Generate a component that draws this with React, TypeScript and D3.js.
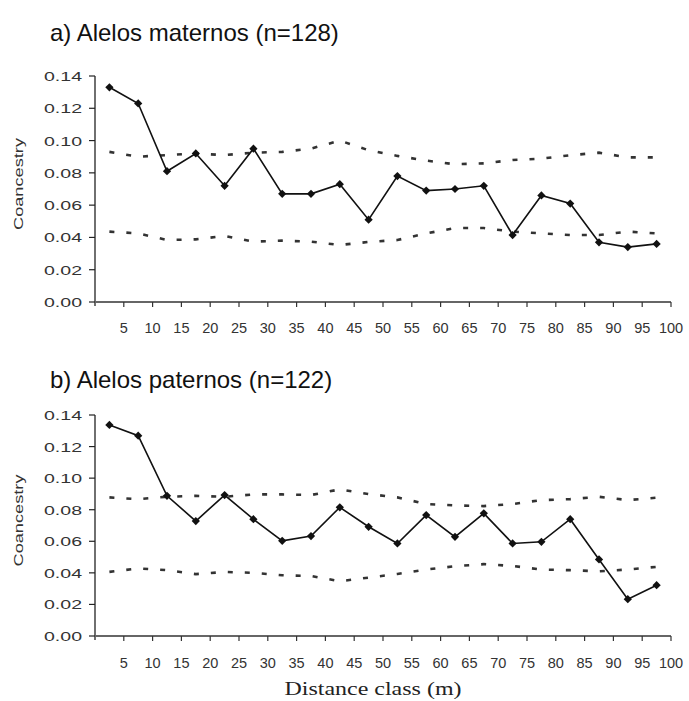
import React from "react";
import * as d3 from "d3";

const distanceClasses = [2.5, 7.5, 12.5, 17.5, 22.5, 27.5, 32.5, 37.5, 42.5, 47.5, 52.5, 57.5, 62.5, 67.5, 72.5, 77.5, 82.5, 87.5, 92.5, 97.5];
const xTickValues = [5, 10, 15, 20, 25, 30, 35, 40, 45, 50, 55, 60, 65, 70, 75, 80, 85, 90, 95, 100];
const yTickValues = [0, 0.02, 0.04, 0.06, 0.08, 0.1, 0.12, 0.14];

const maternalObserved = [0.133, 0.123, 0.081, 0.092, 0.072, 0.095, 0.067, 0.067, 0.073, 0.051, 0.078, 0.069, 0.070, 0.072, 0.0415, 0.066, 0.061, 0.037, 0.034, 0.036];
const maternalUpper = [0.093, 0.090, 0.091, 0.092, 0.091, 0.0925, 0.093, 0.095, 0.100, 0.094, 0.0905, 0.0876, 0.0853, 0.0859, 0.088, 0.0888, 0.0909, 0.0925, 0.0896, 0.0896];
const maternalLower = [0.0436, 0.0425, 0.0384, 0.0388, 0.0409, 0.0374, 0.038, 0.0374, 0.0353, 0.0372, 0.0384, 0.0425, 0.0458, 0.0458, 0.0436, 0.0425, 0.0415, 0.0415, 0.0436, 0.0425];

const paternalObserved = [0.1337, 0.1269, 0.0888, 0.0728, 0.0893, 0.074, 0.0603, 0.0633, 0.0815, 0.0692, 0.0586, 0.0766, 0.0628, 0.0777, 0.0586, 0.0597, 0.074, 0.0485, 0.0233, 0.0322];
const paternalUpper = [0.0878, 0.0867, 0.0882, 0.0888, 0.0882, 0.0897, 0.0897, 0.0893, 0.0929, 0.0899, 0.0878, 0.0836, 0.0827, 0.0823, 0.0836, 0.0861, 0.0867, 0.0882, 0.0861, 0.0876];
const paternalLower = [0.0406, 0.0428, 0.0417, 0.0392, 0.0406, 0.040, 0.0385, 0.038, 0.0347, 0.037, 0.0393, 0.0421, 0.0442, 0.0455, 0.0444, 0.0421, 0.0417, 0.041, 0.0421, 0.0438];

const LEFT = 95;
const RIGHT = 671;

type PanelProps = {
  title: string;
  titleY: number;
  top: number;
  bottom: number;
  observed: number[];
  upper: number[];
  lower: number[];
  labelBaseline: number;
};

function Panel({ title, titleY, top, bottom, observed, upper, lower, labelBaseline }: PanelProps) {
  const x = d3.scaleLinear().domain([0, 100]).range([LEFT, RIGHT]);
  const y = d3.scaleLinear().domain([0, 0.14]).range([bottom, top]);
  const line = d3
    .line<number>()
    .x((_, i) => x(distanceClasses[i]))
    .y((d) => y(d));
  const marker = d3.symbol().type(d3.symbolSquare).size(34)();
  const sans = "'Liberation Sans', Arial, sans-serif";
  return (
    <g>
      <text x={50} y={titleY} fontFamily={sans} fontSize={24} fill="#111">
        {title}
      </text>
      {/* y axis */}
      <line x1={LEFT} x2={LEFT} y1={y(0.14)} y2={y(0) + 4} stroke="#222" strokeWidth={1.3} />
      {yTickValues.map((t) => (
        <g key={t}>
          <line x1={LEFT - 6} x2={LEFT} y1={y(t)} y2={y(t)} stroke="#222" strokeWidth={1.2} />
          <text
            x={82}
            y={y(t) + 5}
            textAnchor="end"
            fontFamily={sans}
            fontSize={13.5}
            textLength={38}
            lengthAdjust="spacingAndGlyphs"
            fill="#333"
          >
            {t.toFixed(2)}
          </text>
        </g>
      ))}
      <text
        transform={`translate(23,${(top + bottom) / 2 - 5}) rotate(-90)`}
        textAnchor="middle"
        fontFamily={sans}
        fontSize={12.5}
        textLength={92}
        lengthAdjust="spacingAndGlyphs"
        fill="#333"
      >
        Coancestry
      </text>
      {/* x axis */}
      <line x1={LEFT} x2={RIGHT} y1={y(0)} y2={y(0)} stroke="#666" strokeWidth={1.8} />
      {xTickValues.map((t) => (
        <g key={t}>
          <line x1={x(t)} x2={x(t)} y1={y(0)} y2={y(0) + 5} stroke="#333" strokeWidth={1.2} />
          <text
            x={x(t)}
            y={labelBaseline}
            textAnchor="middle"
            fontFamily={sans}
            fontSize={14.5}
            fill="#333"
          >
            {t}
          </text>
        </g>
      ))}
      {/* envelopes */}
      <path d={line(upper) || ""} fill="none" stroke="#333" strokeWidth={2.6} strokeDasharray="5 12" />
      <path d={line(lower) || ""} fill="none" stroke="#333" strokeWidth={2.6} strokeDasharray="5 12" />
      {/* observed */}
      <path d={line(observed) || ""} fill="none" stroke="#111" strokeWidth={1.6} />
      {observed.map((d, i) => (
        <path
          key={i}
          d={marker || ""}
          transform={`translate(${x(distanceClasses[i])},${y(d)}) rotate(45)`}
          fill="#111"
        />
      ))}
    </g>
  );
}

export default function App() {
  return (
    <svg
      width={689}
      height={701}
      style={{ position: "absolute", left: 0, top: 0, background: "#fff" }}
    >
      <rect x={0} y={0} width={689} height={701} fill="#fff" />
      <Panel
        title="a) Alelos maternos (n=128)"
        titleY={41}
        top={76}
        bottom={302}
        observed={maternalObserved}
        upper={maternalUpper}
        lower={maternalLower}
        labelBaseline={333}
      />
      <Panel
        title="b) Alelos paternos (n=122)"
        titleY={388}
        top={415}
        bottom={636}
        observed={paternalObserved}
        upper={paternalUpper}
        lower={paternalLower}
        labelBaseline={668}
      />
      <text
        x={373}
        y={695}
        textAnchor="middle"
        fontFamily="'Liberation Serif', 'Times New Roman', serif"
        fontSize={18}
        textLength={177}
        lengthAdjust="spacingAndGlyphs"
        fill="#222"
      >
        Distance class (m)
      </text>
    </svg>
  );
}
